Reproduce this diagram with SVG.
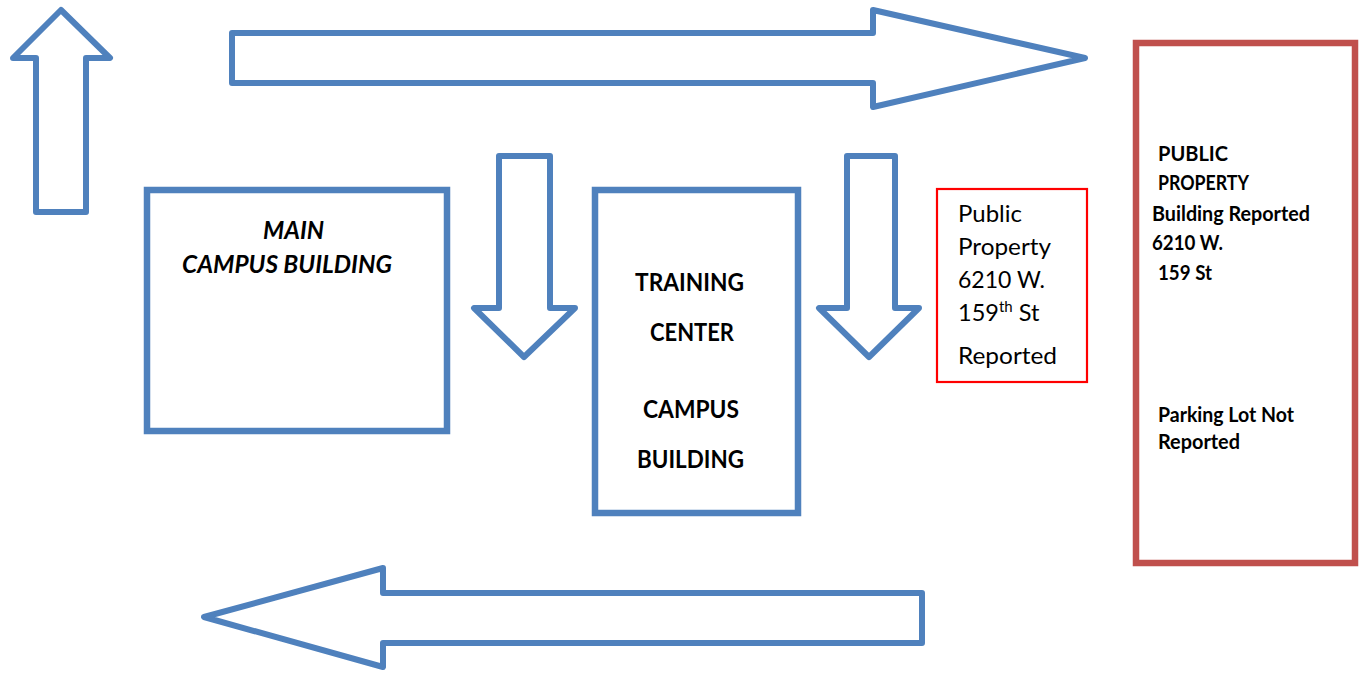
<svg xmlns="http://www.w3.org/2000/svg" width="1364" height="673" viewBox="0 0 1364 673">
<style>
.arrow{fill:#fff;stroke:#4F81BD;stroke-width:6;stroke-linejoin:round}
.bluebox{fill:#fff;stroke:#4F81BD;stroke-width:6.5}
.redbox{fill:#fff;stroke:#C0504D;stroke-width:6.5}
.thinred{fill:#fff;stroke:#FF0000;stroke-width:2.2}
text{font-family:Lato,"Liberation Sans",sans-serif;fill:#000}
.b24{font-size:24px;font-weight:bold}
.bi24{font-size:24px;font-weight:bold;font-style:italic}
.r22{font-size:23.5px}
.b20{font-size:20.5px;font-weight:bold}
</style>
<rect width="1364" height="673" fill="#fff"/>
<g id="connectors">
<path id="arrow-up" class="arrow" d="M61,10 L110,58 L86,58 L86,212 L36,212 L36,58 L13,58 Z"/>
<path id="arrow-right" class="arrow" d="M232,33 L873,33 L873,10 L1085,58 L873,107 L873,83 L232,83 Z"/>
<path id="arrow-down-1" class="arrow" d="M499,156 L550,156 L550,308 L575,308 L524,357 L474,308 L499,308 Z"/>
<path id="arrow-down-2" class="arrow" d="M847,156 L895,156 L895,308 L919,308 L869,357 L819,308 L847,308 Z"/>
<path id="arrow-left" class="arrow" d="M922,593 L383,593 L383,568 L204,617 L383,667 L383,643 L922,643 Z"/>
</g>
<g id="main-campus">
<rect class="bluebox" x="147" y="190" width="300" height="241"/>
<text class="bi24" x="263" y="239" textLength="61" lengthAdjust="spacingAndGlyphs">MAIN</text>
<text class="bi24" x="182" y="273" textLength="210" lengthAdjust="spacingAndGlyphs">CAMPUS BUILDING</text>
</g>
<g id="training-center">
<rect class="bluebox" x="595" y="190" width="203" height="323"/>
<text class="b24" x="635" y="291" textLength="109" lengthAdjust="spacingAndGlyphs">TRAINING</text>
<text class="b24" x="650" y="341" textLength="84" lengthAdjust="spacingAndGlyphs">CENTER</text>
<text class="b24" x="643" y="418" textLength="96" lengthAdjust="spacingAndGlyphs">CAMPUS</text>
<text class="b24" x="637" y="468" textLength="107" lengthAdjust="spacingAndGlyphs">BUILDING</text>
</g>
<g id="public-property-small">
<rect class="thinred" x="937" y="189" width="150" height="193"/>
<text class="r22" x="958" y="222" textLength="64" lengthAdjust="spacingAndGlyphs">Public</text>
<text class="r22" x="958" y="255" textLength="93" lengthAdjust="spacingAndGlyphs">Property</text>
<text class="r22" x="958" y="288" textLength="87" lengthAdjust="spacingAndGlyphs">6210 W.</text>
<text class="r22" x="958" y="321">159<tspan font-size="15" dy="-9">th</tspan><tspan dy="9"> St</tspan></text>
<text class="r22" x="958" y="364" textLength="99" lengthAdjust="spacingAndGlyphs">Reported</text>
</g>
<g id="public-property-large">
<rect class="redbox" x="1136" y="43" width="219" height="520"/>
<text class="b20" x="1158" y="161" textLength="70" lengthAdjust="spacingAndGlyphs">PUBLIC</text>
<text class="b20" x="1158" y="190" textLength="91" lengthAdjust="spacingAndGlyphs">PROPERTY</text>
<text class="b20" x="1152" y="221" textLength="158" lengthAdjust="spacingAndGlyphs">Building Reported</text>
<text class="b20" x="1152" y="250" textLength="71" lengthAdjust="spacingAndGlyphs">6210 W.</text>
<text class="b20" x="1158" y="280" textLength="54" lengthAdjust="spacingAndGlyphs">159 St</text>
<text class="b20" x="1158" y="422" textLength="136" lengthAdjust="spacingAndGlyphs">Parking Lot Not</text>
<text class="b20" x="1158" y="449" textLength="82" lengthAdjust="spacingAndGlyphs">Reported</text>
</g>
</svg>
